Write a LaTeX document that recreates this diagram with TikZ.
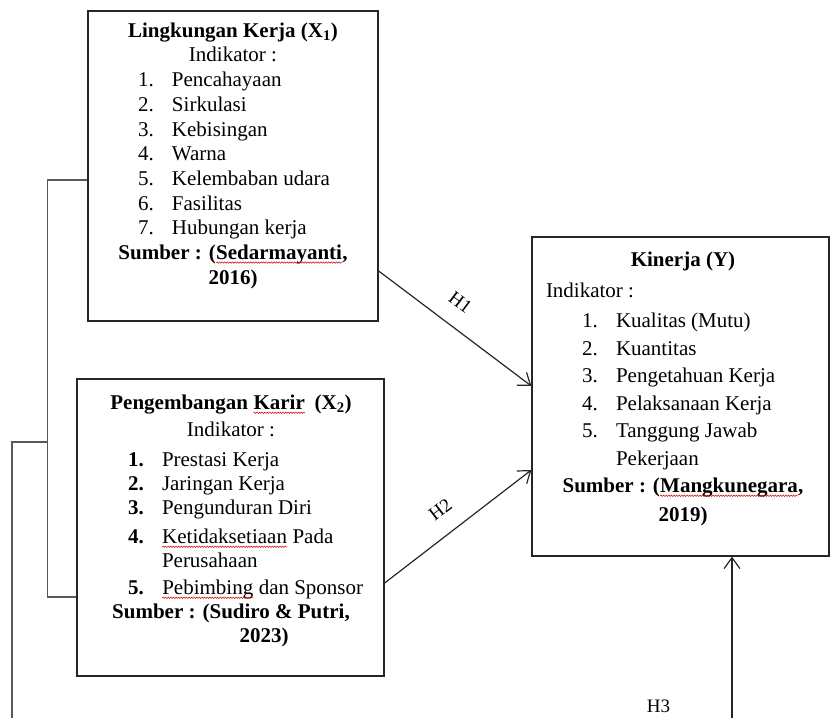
\documentclass[tikz,border=0pt]{standalone}
\usepackage{fontspec}
\setmainfont{Liberation Serif}
\usepackage{tikz}
\usetikzlibrary{arrows.meta,positioning,decorations.pathmorphing}

\newcommand{\butir}[3]{\makebox[#1][l]{\makebox[34pt][l]{#2}#3}}
\newcommand{\salah}[1]{\tikz[baseline=(w.base)]{\node[inner sep=0pt, outer sep=0pt] (w) {#1};
  \draw[red!85!black, line width=0.5pt, decorate, decoration={snake, amplitude=0.7pt, segment length=2.6pt}]
    ([yshift=-3pt]w.base west) -- ([yshift=-3pt]w.base east);}}

\begin{document}
\begin{tikzpicture}[x=1pt, y=1pt,
  kotak/.style={draw=black!85, line width=1.3pt, inner sep=0pt},
  isi/.style={align=center, inner sep=0pt, anchor=north},
  garis/.style={draw=black!65, line width=1.1pt},
  panah/.style={draw=black!85, line width=1.2pt, -{Straight Barb[length=11pt,width=16pt]}},
  kode/.style={font=\fontsize{19}{19}\selectfont}]
  % Kerangka konseptual: X1, X2 -> Y
  \useasboundingbox (0,0) rectangle (831,718);
  \node[kotak, minimum width=290pt, minimum height=310pt] (x1) at (233,552) {};
  \node[kotak, minimum width=307pt, minimum height=297pt] (x2) at (230.5,190.5) {};
  \node[kotak, minimum width=297pt, minimum height=319pt] (y) at (680.5,321.5) {};

  \node[isi, font=\fontsize{21}{24.7}\selectfont] (tx1) at (233,695.5) {%
    \textbf{Lingkungan Kerja (X\textsubscript{1})}\\
    Indikator :\\
    \butir{190pt}{1.}{Pencahayaan}\\
    \butir{190pt}{2.}{Sirkulasi}\\
    \butir{190pt}{3.}{Kebisingan}\\
    \butir{190pt}{4.}{Warna}\\
    \butir{190pt}{5.}{Kelembaban udara}\\
    \butir{190pt}{6.}{Fasilitas}\\
    \butir{190pt}{7.}{Hubungan kerja}\\
    \textbf{Sumber : (\salah{Sedarmayanti},}\\
    \textbf{2016)}};

  \node[isi, font=\fontsize{21}{24}\selectfont] (tx2) at (231,323) {%
    \textbf{Pengembangan \salah{Karir}\hspace{0.2em} (X\textsubscript{2})}\\[3pt]
    Indikator :\\[6pt]
    \butir{206pt}{\textbf{1.}}{Prestasi Kerja}\\
    \butir{206pt}{\textbf{2.}}{Jaringan Kerja}\\
    \butir{206pt}{\textbf{3.}}{Pengunduran Diri}\\[5pt]
    \butir{206pt}{\textbf{4.}}{\salah{Ketidaksetiaan} Pada}\\
    \butir{206pt}{}{Perusahaan}\\[3pt]
    \butir{206pt}{\textbf{5.}}{\salah{Pebimbing} dan Sponsor}\\
    \textbf{Sumber : (Sudiro \& Putri,}\\
    \hspace*{66pt}\textbf{2023)}};

  \node[isi, font=\fontsize{21}{27.5}\selectfont] (ty) at (683,466) {%
    \textbf{Kinerja (Y)}\\[3.5pt]
    \makebox[274pt][l]{Indikator :}\\[2.5pt]
    \butir{202pt}{1.}{Kualitas (Mutu)}\\
    \butir{202pt}{2.}{Kuantitas}\\
    \butir{202pt}{3.}{Pengetahuan Kerja}\\
    \butir{202pt}{4.}{Pelaksanaan Kerja}\\
    \butir{202pt}{5.}{Tanggung Jawab}\\
    \butir{202pt}{}{Pekerjaan}\\
    \textbf{Sumber : (\salah{Mangkunegara},}\\[1pt]
    \textbf{2019)}};

  % garis penghubung kiri
  \coordinate (cabang) at (48,276);
  \coordinate (bawah) at (12,0);
  \coordinate (h3bawah) at (732,0);
  \draw[garis] ([yshift=-14pt]x1.west) -- ++(-40,0) |- ([yshift=-69.5pt]x2.west);
  \draw[garis] (cabang) -| (bawah);

  % hipotesis
  \draw[panah] ([yshift=-105pt]x1.east) -- ([yshift=10.5pt]y.west)
    node[kode, sloped, pos=0.44, above=14pt] (h1) {H1};
  \draw[panah] ([yshift=-55.5pt]x2.east) -- ([yshift=-73.5pt]y.west)
    node[kode, sloped, pos=0.48, above=14pt] (h2) {H2};
  \draw[panah] (h3bawah) -- (h3bawah |- y.south)
    node[kode, pos=0.07, left=58pt] (h3) {H3};
\end{tikzpicture}
\end{document}
